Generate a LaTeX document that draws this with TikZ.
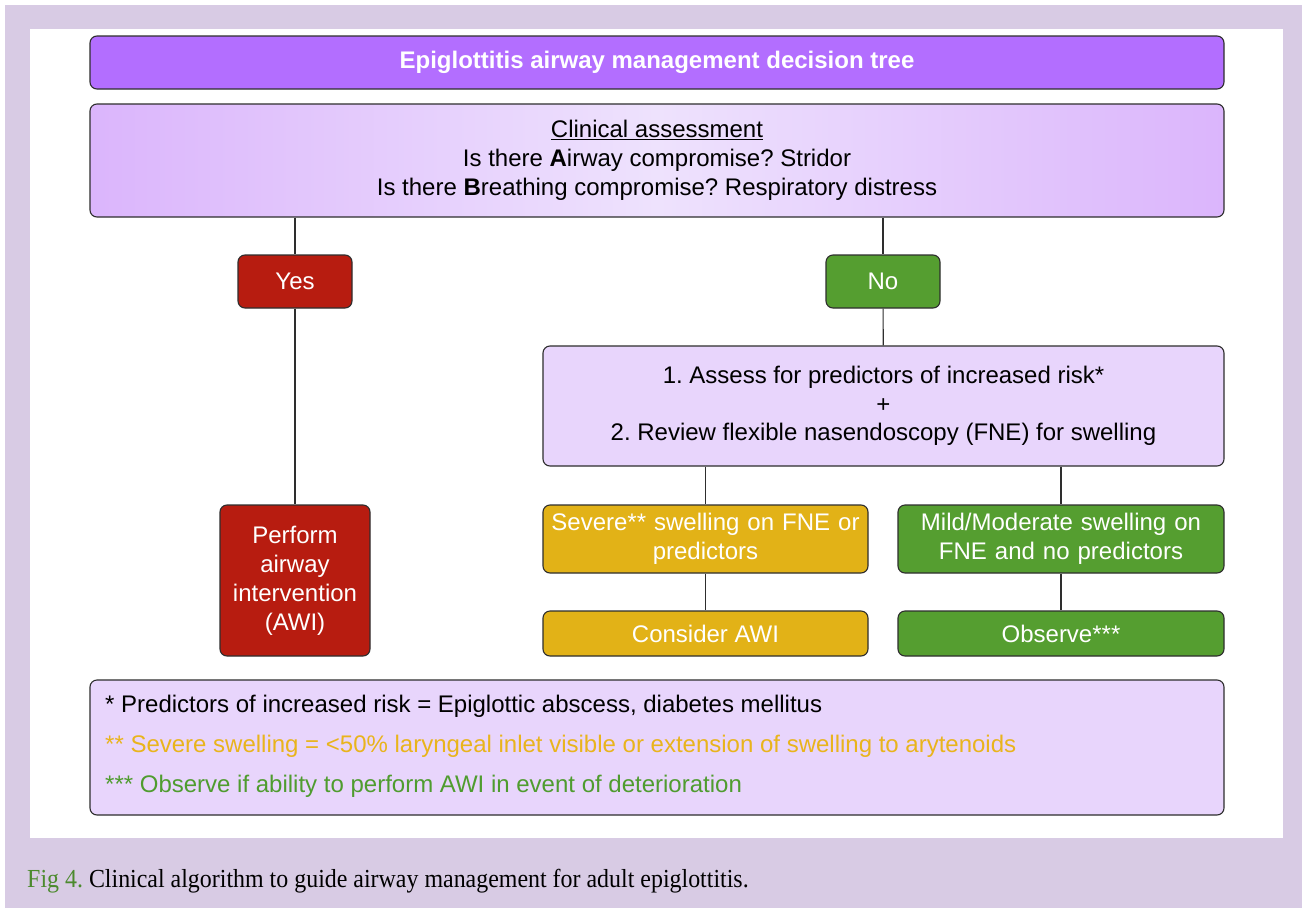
\documentclass[tikz,border=0pt]{standalone}
\usepackage{fontspec}
\setmainfont{Liberation Sans}
\newfontfamily\capfont[FakeStretch=0.92]{Liberation Serif}
\usepackage{xcolor}
\definecolor{framebg}{HTML}{D8CBE4}
\definecolor{titlefill}{HTML}{B36EFF}
\definecolor{shadeout}{HTML}{DBB5FC}
\definecolor{shadein}{HTML}{EEE2FD}
\definecolor{palefill}{HTML}{E8D5FC}
\definecolor{yesred}{HTML}{B71C10}
\definecolor{nogreen}{HTML}{559E30}
\definecolor{sevyellow}{HTML}{E2B217}
\definecolor{notegold}{HTML}{E9B41C}
\definecolor{notegreen}{HTML}{4F9C2F}
\definecolor{capgreen}{HTML}{4C8A2E}
\definecolor{edge}{HTML}{2E2E2E}

\tikzset{
  box/.style={draw=edge, line width=1.1pt, rounded corners=7pt, inner sep=0pt, align=center,
    font=\fontsize{24}{29}\selectfont},
  whitebox/.style={box, text=white},
  notetext/.style={anchor=west, inner sep=0pt, font=\fontsize{24}{29}\selectfont},
  link/.style={draw=edge, line width=1.1pt}
}

\begin{document}
\frenchspacing
\begin{tikzpicture}[x=1pt,y=1pt,yscale=-1]
        \useasboundingbox (0,0) rectangle (1302,908);
        
        %Shape: Frame and panel
        \fill [white] (0,0) rectangle (1302,908);
        \fill [framebg] (5,5) rectangle (1302,908);
        \fill [white] (30,29) rectangle (1283,838);
        
        %Shape: Title
        \node [box, fill=titlefill, text=white, minimum width=1134pt, minimum height=53pt] (title) at (657,62.5) {\textbf{Epiglottitis airway management decision tree}};
        
        %Shape: Clinical assessment
        \node [box, left color=shadeout, right color=shadeout, middle color=shadein, minimum width=1134pt, minimum height=113pt] (clinical) at (657,160.5) {\underline{Clinical assessment}\\ Is there \textbf{A}irway compromise? Stridor\\ Is there \textbf{B}reathing compromise? Respiratory distress};
        
        %Shape: Yes / No
        \node [whitebox, fill=yesred, minimum width=114pt, minimum height=53pt] (yes) at (295,281.5) {Yes};
        \node [whitebox, fill=nogreen, minimum width=114pt, minimum height=53pt] (no) at (883,281.5) {No};
        
        %Shape: Left branch
        \node [whitebox, fill=yesred, minimum width=150pt, minimum height=151pt, text width=145pt] (perform) at (295,580.5) {Perform\\ airway\\ intervention\\ (AWI)};
        
        %Shape: Right branch
        \node [box, fill=palefill, minimum width=681pt, minimum height=120pt] (assess) at (883.5,406) {1. Assess for predictors of increased risk*\\[-0.5pt] +\\[-0.5pt] 2. Review flexible nasendoscopy (FNE) for swelling};
        \node [whitebox, fill=sevyellow, minimum width=325pt, minimum height=68pt, text width=318pt] (severe) at (705.5,539) {Severe** swelling on FNE or\\ predictors};
        \node [whitebox, fill=nogreen, minimum width=326pt, minimum height=68pt, text width=318pt] (mild) at (1061,539) {Mild/Moderate swelling on\\ FNE and no predictors};
        \node [whitebox, fill=sevyellow, minimum width=325pt, minimum height=45pt] (consider) at (705.5,633.5) {Consider AWI};
        \node [whitebox, fill=nogreen, minimum width=326pt, minimum height=45pt] (observe) at (1061,633.5) {Observe***};
        
        %Lines
        \draw [link] (yes |- clinical.south) -- (yes.north);
        \draw [link] (no |- clinical.south) -- (no.north);
        \draw [link] (yes) -- (perform);
        \draw [link] (no) -- (assess);
        \draw [link] (severe |- assess.south) -- (severe.north);
        \draw [link] (mild |- assess.south) -- (mild.north);
        \draw [link] (severe) -- (consider);
        \draw [link] (mild) -- (observe);
        
        %Shape: Footnotes
        \node [box, fill=palefill, minimum width=1134pt, minimum height=135pt] (notes) at (657,747.5) {};
        
        % Text Node
        \node [notetext] (noteone) at (105,706.5) {* Predictors of increased risk = Epiglottic abscess, diabetes mellitus};
        \node [notetext, text=notegold] (notetwo) at (105,746.5) {** Severe swelling = <50\% laryngeal inlet visible or extension of swelling to arytenoids};
        \node [notetext, text=notegreen] (notethree) at (105,786.5) {*** Observe if ability to perform AWI in event of deterioration};
        
        % Text Node
        \node [anchor=west, inner sep=0pt, font=\capfont\fontsize{26}{30}\selectfont] (caption) at (27,881) {{\color{capgreen}Fig 4.} Clinical algorithm to guide airway management for adult epiglottitis.};
        
\end{tikzpicture}
\end{document}
